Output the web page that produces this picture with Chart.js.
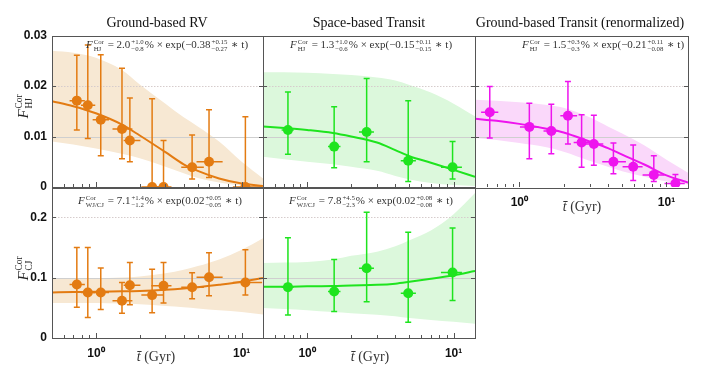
<!DOCTYPE html>
<html>
<head>
<meta charset="utf-8">
<script src="https://cdn.jsdelivr.net/npm/chart.js@4"></script>
<style>
  body { margin: 0; background: #fff; }
  #wrap { position: relative; width: 704px; height: 372px; overflow: hidden;
          font-family: "Liberation Serif", "DejaVu Serif", serif; color: #222; }
  #wrap canvas { position: absolute; left: 0; top: 0; }
  .txt { position: absolute; white-space: nowrap; transform: translate(-50%, -50%); line-height: 1; }
  .ttl { font-size: 14px; color: #111; }
  .fml { font-size: 11px; color: #333; }
  .ss { display: inline-block; vertical-align: middle; font-size: 0.62em; line-height: 1.05; text-align: left; margin: 0 1px; }
  .ss span { display: block; }
  .ylab { font-size: 15px; transform: translate(-50%, -50%) rotate(-90deg); }
  .xlab { font-size: 14px; color: #333; }
</style>
</head>
<body>
<div id="wrap">
  <canvas id="c1" width="704" height="372"></canvas>
  <canvas id="c2" width="704" height="372"></canvas>
  <canvas id="c3" width="704" height="372"></canvas>
  <canvas id="c4" width="704" height="372"></canvas>
  <canvas id="c5" width="704" height="372"></canvas>

  <div class="txt ttl" style="left:157px;top:23px">Ground-based RV</div>
  <div class="txt ttl" style="left:369px;top:23px">Space-based Transit</div>
  <div class="txt ttl" style="left:580px;top:23px">Ground-based Transit (renormalized)</div>

  <div class="txt fml" style="left:167px;top:45px"><i>F</i><span class="ss"><span>Cor</span><span>HJ</span></span> = 2.0<span class="ss"><span>+1.0</span><span>−0.8</span></span>% × exp(−0.38<span class="ss"><span>+0.15</span><span>−0.27</span></span> ∗ t)</div>
  <div class="txt fml" style="left:371px;top:45px"><i>F</i><span class="ss"><span>Cor</span><span>HJ</span></span> = 1.3<span class="ss"><span>+1.0</span><span>−0.6</span></span>% × exp(−0.15<span class="ss"><span>+0.11</span><span>−0.15</span></span> ∗ t)</div>
  <div class="txt fml" style="left:603px;top:45px"><i>F</i><span class="ss"><span>Cor</span><span>HJ</span></span> = 1.5<span class="ss"><span>+0.3</span><span>−0.3</span></span>% × exp(−0.21<span class="ss"><span>+0.11</span><span>−0.08</span></span> ∗ t)</div>
  <div class="txt fml" style="left:160px;top:201px"><i>F</i><span class="ss"><span>Cor</span><span>WJ/CJ</span></span> = 7.1<span class="ss"><span>+1.4</span><span>−1.2</span></span>% × exp(0.02<span class="ss"><span>+0.05</span><span>−0.05</span></span> ∗ t)</div>
  <div class="txt fml" style="left:371px;top:201px"><i>F</i><span class="ss"><span>Cor</span><span>WJ/CJ</span></span> = 7.8<span class="ss"><span>+4.5</span><span>−2.3</span></span>% × exp(0.02<span class="ss"><span>+0.08</span><span>−0.08</span></span> ∗ t)</div>

  <div class="txt ylab" style="left:25px;top:106px"><i>F</i><span class="ss"><span>Cor</span><span>HJ</span></span></div>
  <div class="txt ylab" style="left:25px;top:268px"><i>F</i><span class="ss"><span>Cor</span><span>CJ</span></span></div>

  <div class="txt xlab" style="left:156px;top:357px"><i>t&#772;</i> (Gyr)</div>
  <div class="txt xlab" style="left:370px;top:357px"><i>t&#772;</i> (Gyr)</div>
  <div class="txt xlab" style="left:582px;top:207px"><i>t&#772;</i> (Gyr)</div>
</div>

<script>
// フィット曲線・信頼帯の年齢グリッド (Gyr)
const fitAge = [0.5, 0.7, 1, 1.5, 2, 3, 4, 5, 7, 10, 14];
const minorTicks = [0.5, 0.6, 0.7, 0.8, 0.9, 1, 2, 3, 4, 5, 6, 7, 8, 9, 10];
const xTickLabels = { 1: '10⁰', 10: '10¹' };

// Ground-based RV
const rvAge   = [0.74, 0.88, 1.08, 1.51, 1.71, 2.43, 2.91, 4.57, 5.97, 10.6];
const rvAgeLo = [0.66, 0.79, 0.95, 1.30, 1.55, 2.05, 2.40, 3.85, 4.90, 8.7];
const rvAgeHi = [0.84, 0.99, 1.23, 1.78, 2.02, 2.90, 3.30, 5.50, 7.40, 13.8];
const rvHJ    = [0.0171, 0.0162, 0.0133, 0.0115, 0.0092, 0, 0, 0.0039, 0.0050, 0];
const rvHJLo  = [0.0113, 0.0096, 0.0062, 0.0056, 0.0050, 0, 0, 0.0016, 0.0019, 0];
const rvHJHi  = [0.0261, 0.0281, 0.0262, 0.0235, 0.0176, 0.0175, 0.0092, 0.0103, 0.0153, 0.0139];
const rvFitHJ    = [0.0170, 0.0160, 0.0146, 0.0124, 0.0102, 0.0069, 0.0045, 0.0032, 0.0017, 0.0007, 0.0002];
const rvBandHJHi = [0.0270, 0.0266, 0.0256, 0.0232, 0.0203, 0.0165, 0.0138, 0.0120, 0.0090, 0.0050, 0.0017];
const rvBandHJLo = [0.0090, 0.0084, 0.0076, 0.0066, 0.0057, 0.0040, 0.0027, 0.0018, 0.0009, 0.0003, 0.0001];
const rvCJ    = [0.0885, 0.0753, 0.0753, 0.0616, 0.0874, 0.0710, 0.0863, 0.0841, 0.1006, 0.0918];
const rvCJLo  = [0.051, 0.034, 0.047, 0.041, 0.055, 0.042, 0.058, 0.065, 0.070, 0.071];
const rvCJHi  = [0.150, 0.150, 0.116, 0.092, 0.125, 0.114, 0.125, 0.108, 0.141, 0.146];
const rvFitCJ    = [0.0755, 0.0760, 0.0765, 0.0772, 0.0780, 0.0800, 0.0820, 0.0840, 0.0880, 0.0930, 0.0995];
const rvBandCJHi = [0.099, 0.099, 0.099, 0.100, 0.102, 0.107, 0.113, 0.119, 0.130, 0.146, 0.165];
const rvBandCJLo = [0.058, 0.058, 0.058, 0.057, 0.056, 0.053, 0.051, 0.049, 0.046, 0.043, 0.039];

// Space-based Transit
const spAge   = [0.74, 1.53, 2.55, 4.90, 9.84];
const spAgeLo = [0.67, 1.39, 2.26, 4.36, 8.2];
const spAgeHi = [0.81, 1.69, 2.86, 5.53, 11.4];
const spHJ    = [0.0113, 0.0080, 0.0109, 0.0052, 0.0039];
const spHJLo  = [0.0065, 0.0038, 0.0050, 0.0011, 0.0016];
const spHJHi  = [0.0188, 0.0159, 0.0215, 0.0171, 0.0090];
const spFitHJ    = [0.0120, 0.0117, 0.0113, 0.0107, 0.0100, 0.0088, 0.0073, 0.0061, 0.0048, 0.0034, 0.0020];
const spBandHJHi = [0.0227, 0.0227, 0.0226, 0.0224, 0.0222, 0.0217, 0.0211, 0.0202, 0.0187, 0.0165, 0.0140];
const spBandHJLo = [0.0060, 0.0055, 0.0050, 0.0045, 0.0040, 0.0032, 0.0022, 0.0015, 0.0008, 0.0004, 0.0002];
const spCJ    = [0.0842, 0.0769, 0.1155, 0.0742, 0.1083];
const spCJLo  = [0.038, 0.044, 0.060, 0.026, 0.062];
const spCJHi  = [0.166, 0.130, 0.208, 0.175, 0.182];
const spFitCJ    = [0.0850, 0.0850, 0.0855, 0.0860, 0.0870, 0.0880, 0.0900, 0.0930, 0.0980, 0.1040, 0.1110];
const spBandCJHi = [0.124, 0.125, 0.126, 0.130, 0.136, 0.143, 0.152, 0.162, 0.178, 0.205, 0.240];
const spBandCJLo = [0.0495, 0.048, 0.046, 0.043, 0.041, 0.0385, 0.036, 0.033, 0.030, 0.027, 0.0236];

// Ground-based Transit (renormalized)
const gtAge   = [0.63, 1.17, 1.65, 2.14, 2.65, 3.21, 4.36, 5.94, 8.2, 11.5];
const gtAgeLo = [0.55, 1.01, 1.46, 1.90, 2.34, 2.82, 3.66, 5.03, 6.88, 9.7];
const gtAgeHi = [0.72, 1.35, 1.85, 2.47, 3.02, 3.72, 5.30, 6.88, 9.70, 13.3];
const gtHJ    = [0.0148, 0.0119, 0.0111, 0.0141, 0.0088, 0.0085, 0.0050, 0.0040, 0.0024, 0.0007];
const gtHJLo  = [0.0097, 0.0056, 0.0066, 0.0085, 0.0039, 0.0043, 0.0026, 0.0013, 0.0011, 0.0000];
const gtHJHi  = [0.0199, 0.0166, 0.0164, 0.0209, 0.0143, 0.0142, 0.0087, 0.0083, 0.0062, 0.0025];
const gtFitHJ    = [0.0135, 0.0131, 0.0125, 0.0116, 0.0108, 0.0090, 0.0077, 0.0064, 0.0045, 0.0023, 0.0009];
const gtBandHJHi = [0.0173, 0.0171, 0.0168, 0.0163, 0.0157, 0.0138, 0.0120, 0.0106, 0.0083, 0.0054, 0.0028];
const gtBandHJLo = [0.0097, 0.0093, 0.0087, 0.0079, 0.0070, 0.0052, 0.0040, 0.0031, 0.0021, 0.0011, 0.0005];

const ORANGE = '#e37b12', BEIGE = '#f7e8d3';
const GREEN = '#1ee41e', LGREEN = '#dcf8dc';
const MAGENTA = '#ee14ee', PINK = '#fad8fa';

// データセット順: 0=点, 1=フィット, 2=帯下限, 3=帯上限 (Chart.jsは後ろから描くので帯が一番下)
function makePanel(id, p) {
  const r = p.rect;
  const yw = p.showY ? 50 : 0;
  const xh = p.showX ? 22 : 0;

  const panelPlugin = {
    id: 'panel' + id,
    // 帯の上にグリッド線
    afterDatasetDraw(chart, args) {
      if (args.index !== 2) return;
      const { ctx, chartArea: a, scales: { y } } = chart;
      ctx.save();
      p.yTicks.forEach((v, i) => {
        if (v === 0 || v >= p.ymax) return;
        const py = Math.round(y.getPixelForValue(v)) + 0.5;
        ctx.strokeStyle = i === 1 ? '#cfcfcf' : '#d6cccc';
        ctx.setLineDash(i === 1 ? [] : [1.5, 1.5]);
        ctx.lineWidth = 1;
        ctx.beginPath(); ctx.moveTo(a.left, py); ctx.lineTo(a.right, py); ctx.stroke();
      });
      ctx.restore();
    },
    // 誤差棒
    beforeDatasetDraw(chart, args) {
      if (args.index !== 0) return;
      const { ctx, chartArea: a, scales: { x, y } } = chart;
      ctx.save();
      ctx.beginPath(); ctx.rect(a.left, a.top, a.width, a.height); ctx.clip();
      ctx.strokeStyle = p.color;
      ctx.lineWidth = 1.5;
      p.age.forEach((t, i) => {
        const px = x.getPixelForValue(t), py = y.getPixelForValue(p.val[i]);
        const y0 = y.getPixelForValue(p.lo[i]), y1 = y.getPixelForValue(p.hi[i]);
        ctx.beginPath();
        ctx.moveTo(px, y0); ctx.lineTo(px, y1);
        ctx.moveTo(px - 3, y0); ctx.lineTo(px + 3, y0);
        ctx.moveTo(px - 3, y1); ctx.lineTo(px + 3, y1);
        ctx.moveTo(x.getPixelForValue(p.ageLo[i]), py); ctx.lineTo(x.getPixelForValue(p.ageHi[i]), py);
        ctx.stroke();
      });
      ctx.restore();
    },
    // 枠線と内向きの目盛り
    afterDraw(chart) {
      const { ctx, chartArea: a, scales: { x, y } } = chart;
      ctx.save();
      ctx.strokeStyle = '#555';
      ctx.lineWidth = 1;
      ctx.strokeRect(Math.round(a.left) + 0.5, Math.round(a.top) + 0.5, Math.round(a.width), Math.round(a.height));
      ctx.beginPath();
      minorTicks.forEach(v => {
        const px = Math.round(x.getPixelForValue(v)) + 0.5;
        const len = (v === 1 || v === 10) ? 5 : 3;
        ctx.moveTo(px, a.bottom); ctx.lineTo(px, a.bottom - len);
      });
      p.yTicks.forEach(v => {
        if (v === 0 || v >= p.ymax) return;
        const py = Math.round(y.getPixelForValue(v)) + 0.5;
        ctx.moveTo(a.left, py); ctx.lineTo(a.left + 4, py);
        ctx.moveTo(a.right, py); ctx.lineTo(a.right - 4, py);
      });
      ctx.stroke();
      ctx.restore();
    }
  };

  const line = (ys, extra) => Object.assign({
    data: fitAge.map((t, i) => ({ x: t, y: ys[i] })),
    pointRadius: 0, borderWidth: 0, borderColor: 'rgba(0,0,0,0)',
    fill: false, cubicInterpolationMode: 'monotone'
  }, extra);

  return new Chart(document.getElementById(id), {
    type: 'line',
    data: {
      datasets: [
        {
          data: p.age.map((t, i) => ({ x: t, y: p.val[i] })),
          showLine: false, pointRadius: 5, pointHoverRadius: 5,
          pointBackgroundColor: p.color, pointBorderWidth: 0, clip: 0
        },
        line(p.fit, { borderColor: p.color, borderWidth: 2 }),
        line(p.bandLo, {}),
        line(p.bandHi, { fill: '-1', backgroundColor: p.band })
      ]
    },
    options: {
      responsive: false,
      animation: false,
      devicePixelRatio: 1,
      layout: { padding: { left: r.l - yw, top: r.t, right: 704 - r.r, bottom: 372 - r.b - xh } },
      plugins: { legend: { display: false }, tooltip: { enabled: false } },
      scales: {
        x: {
          type: 'logarithmic', min: 0.5, max: 14,
          afterBuildTicks: s => { s.ticks = [{ value: 1 }, { value: 10 }]; },
          afterFit: s => { s.height = xh; },
          grid: { display: false, drawTicks: false },
          border: { display: false },
          ticks: {
            display: p.showX, autoSkip: false, maxRotation: 0, padding: 8,
            color: '#111', font: { family: 'Liberation Sans', size: 12, weight: 'bold' },
            callback: v => xTickLabels[v] || ''
          }
        },
        y: {
          type: 'linear', min: 0, max: p.ymax,
          afterBuildTicks: s => { s.ticks = p.yTicks.map(v => ({ value: v })); },
          afterFit: s => { s.width = yw; },
          grid: { display: false, drawTicks: false },
          border: { display: false },
          ticks: {
            display: p.showY, padding: 5,
            color: '#111', font: { family: 'Liberation Sans', size: 12, weight: 'bold' },
            callback: v => v === 0 ? '0' : String(v)
          }
        }
      }
    },
    plugins: [panelPlugin]
  });
}

const TOP = { t: 35.5, b: 187 }, BOT = { t: 187, b: 338 };
const hjTicks = [0, 0.01, 0.02, 0.03], cjTicks = [0, 0.1, 0.2];

makePanel('c1', { rect: { l: 52, r: 263, ...TOP }, ymax: 0.03, yTicks: hjTicks, showY: true, showX: false,
  age: rvAge, ageLo: rvAgeLo, ageHi: rvAgeHi, val: rvHJ, lo: rvHJLo, hi: rvHJHi,
  fit: rvFitHJ, bandHi: rvBandHJHi, bandLo: rvBandHJLo, color: ORANGE, band: BEIGE });
makePanel('c2', { rect: { l: 263, r: 475, ...TOP }, ymax: 0.03, yTicks: hjTicks, showY: false, showX: false,
  age: spAge, ageLo: spAgeLo, ageHi: spAgeHi, val: spHJ, lo: spHJLo, hi: spHJHi,
  fit: spFitHJ, bandHi: spBandHJHi, bandLo: spBandHJLo, color: GREEN, band: LGREEN });
makePanel('c3', { rect: { l: 475, r: 688, ...TOP }, ymax: 0.03, yTicks: hjTicks, showY: false, showX: true,
  age: gtAge, ageLo: gtAgeLo, ageHi: gtAgeHi, val: gtHJ, lo: gtHJLo, hi: gtHJHi,
  fit: gtFitHJ, bandHi: gtBandHJHi, bandLo: gtBandHJLo, color: MAGENTA, band: PINK });
makePanel('c4', { rect: { l: 52, r: 263, ...BOT }, ymax: 0.25, yTicks: cjTicks, showY: true, showX: true,
  age: rvAge, ageLo: rvAgeLo, ageHi: rvAgeHi, val: rvCJ, lo: rvCJLo, hi: rvCJHi,
  fit: rvFitCJ, bandHi: rvBandCJHi, bandLo: rvBandCJLo, color: ORANGE, band: BEIGE });
makePanel('c5', { rect: { l: 263, r: 475, ...BOT }, ymax: 0.25, yTicks: cjTicks, showY: false, showX: true,
  age: spAge, ageLo: spAgeLo, ageHi: spAgeHi, val: spCJ, lo: spCJLo, hi: spCJHi,
  fit: spFitCJ, bandHi: spBandCJHi, bandLo: spBandCJLo, color: GREEN, band: LGREEN });
</script>
</body>
</html>
